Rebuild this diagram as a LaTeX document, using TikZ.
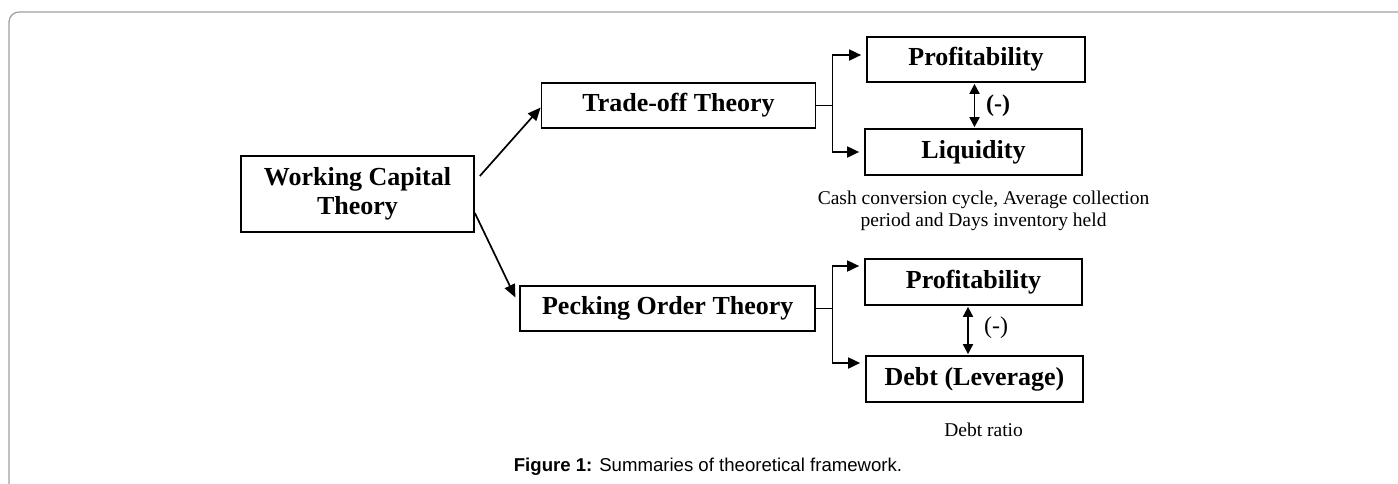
\documentclass[tikz,border=0pt]{standalone}
\usepackage{fontspec}
\setmainfont{Liberation Serif}
\newfontfamily\capfont{Liberation Sans}
\usetikzlibrary{arrows.meta,calc}
\begin{document}
\begin{tikzpicture}[x=1pt,y=-1pt,
  box/.style={draw, line width=1.7pt, inner sep=0pt, font=\fontsize{26}{29}\selectfont\bfseries, align=center},
  arr/.style={line width=1.7pt, -{Triangle[length=13pt,width=11pt]}},
  barr/.style={line width=1.8pt, -{Triangle[length=12pt,width=11pt]}, shorten >=5pt},
  dbl/.style={line width=1.8pt, {Triangle[length=10pt,width=10pt]}-{Triangle[length=10pt,width=10pt]}, shorten >=1pt, shorten <=1pt},
  brk/.style={line width=1.2pt},
  note/.style={font=\fontsize{19.5}{22}\selectfont, align=center},
  sign/.style={font=\fontsize{24}{26}\selectfont, inner sep=0pt}]
\useasboundingbox (0,0) rectangle (1398,483);
\clip (0,0) rectangle (1398,483);
\draw[gray!75, line width=1.2pt, rounded corners=10pt] (9,490) -- (9,12) -- (1405,12);

\node[box, minimum width=233pt, minimum height=76pt] (wc) at (357.5,194) {Working Capital\\Theory};
\node[box, minimum width=274pt, minimum height=45pt] (to) at (678.5,105.5) {Trade-off Theory};
\node[box, minimum width=295pt, minimum height=45pt] (po) at (667.75,308.5) {Pecking Order Theory};
\node[box, minimum width=218pt, minimum height=45pt] (p1) at (976,59.5) {Profitability};
\node[box, minimum width=217pt, minimum height=46pt] (li) at (973.5,152) {Liquidity};
\node[box, minimum width=217pt, minimum height=46pt] (p2) at (973.5,282) {Profitability};
\node[box, minimum width=217pt, minimum height=46pt] (de) at (974.5,379) {Debt (Leverage)};

\draw[arr] ([xshift=5pt,yshift=18pt]wc.east) -- ([yshift=-2pt]to.west);
\draw[arr] ([yshift=-19pt]wc.east) -- ([xshift=-4pt,yshift=11pt]po.west);

\coordinate (p1in) at ([yshift=4.5pt]p1.west);
\coordinate (liin) at (li.west);
\coordinate (p2in) at ([yshift=16pt]p2.west);
\coordinate (dein) at ([yshift=16pt]de.west);

\draw[brk] (to.east) -- ++(16,0) coordinate (tob);
\draw[brk] (tob |- p1in) -- (tob |- liin);
\draw[barr] (tob |- p1in) -- (p1in);
\draw[barr] (tob |- liin) -- (liin);

\draw[brk] (po.east) -- ++(16,0) coordinate (pob);
\draw[brk] (pob |- p2in) -- (pob |- dein);
\draw[barr] (pob |- p2in) -- (p2in);
\draw[barr] (pob |- dein) -- (dein);

\draw[dbl] ([xshift=-1.5pt]p1.south) -- ([xshift=-1.5pt]p1.south |- li.north);
\node[sign, font=\fontsize{24}{26}\selectfont\bfseries] (s1) at (998,106) {(-)};
\draw[dbl] ([xshift=-5.5pt]p2.south) -- ([xshift=-5.5pt]p2.south |- de.north);
\node[sign] (s2) at (996,328) {(-)};

\node[note] (cc) at (983.6,211) {Cash conversion cycle, Average collection\\period and Days inventory held};
\node[note] (dr) at (983.6,430) {Debt ratio};

\node[font=\capfont\fontsize{18.6}{22}\selectfont, inner sep=0pt] (cap) at (708,467) {\textbf{Figure 1:} Summaries of theoretical framework.};
\end{tikzpicture}
\end{document}
